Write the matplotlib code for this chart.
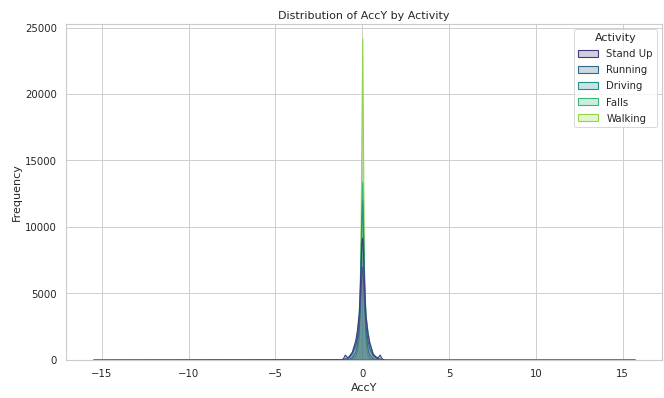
import numpy as np
import matplotlib
matplotlib.use("Agg")
import matplotlib.pyplot as plt
import seaborn as sns

# bin centres (AccY) - fine near 0, sparse tails out to the extremes
acc_y = [-15.5, -1.2, -1.1, -1.0, -0.9, -0.8, -0.6, -0.4, -0.3, -0.2, -0.15, -0.1, -0.05, 0.0,
         0.05, 0.1, 0.15, 0.2, 0.3, 0.4, 0.6, 0.8, 0.9, 1.0, 1.1, 1.2, 1.3, 15.7]

activities = ["Stand Up", "Running", "Driving", "Falls", "Walking"]

# counts per bin for each activity
stand_up = [0, 40, 150, 400, 220, 250, 600, 1500, 2300, 3600, 5000, 7000, 8800, 9200,
            7800, 5800, 4200, 3200, 2000, 1300, 450, 220, 220, 400, 150, 40, 0, 0]
running = [0, 10, 60, 120, 120, 200, 500, 1100, 1700, 2800, 3800, 5200, 6500, 7000,
           5800, 4400, 3300, 2400, 1500, 900, 350, 150, 130, 110, 50, 10, 0, 0]
driving = [0, 0, 0, 0, 10, 40, 200, 600, 1200, 2400, 4000, 7000, 10500, 12000,
           9000, 5800, 3500, 2000, 900, 400, 120, 30, 0, 0, 0, 0, 0, 0]
falls = [0, 0, 10, 60, 100, 200, 600, 1300, 2100, 3500, 5500, 8200, 11500, 13400,
         10000, 6800, 4500, 3200, 2200, 1400, 500, 150, 70, 40, 10, 0, 0, 0]
walking = [0, 0, 0, 0, 10, 20, 80, 300, 700, 1800, 3800, 9000, 17000, 24200,
           15000, 6000, 2800, 1200, 400, 120, 30, 5, 0, 0, 0, 0, 0, 0]

counts = [stand_up, running, driving, falls, walking]

sns.set_theme(style="whitegrid")
colors = sns.color_palette("viridis", len(activities))

fig, ax = plt.subplots(figsize=(10, 6), dpi=66.4)
fig.subplots_adjust(left=0.0994, right=0.997, bottom=0.0957, top=0.9395)

# draw last activity first so Stand Up sits on top (like seaborn)
handles = {}
for name, c, col in reversed(list(zip(activities, counts, colors))):
    h = ax.fill_between(acc_y, c, facecolor=(*col, 0.25), edgecolor=col, linewidth=1.2)
    handles[name] = h

ax.set_ylim(0, max(walking) * 1.045)
ax.set_title("Distribution of AccY by Activity")
ax.set_xlabel("AccY")
ax.set_ylabel("Frequency")
ax.legend([handles[a] for a in activities], activities, title="Activity", loc="upper right",
          labelspacing=0.6)

plt.savefig("out.png", dpi=66.4)
